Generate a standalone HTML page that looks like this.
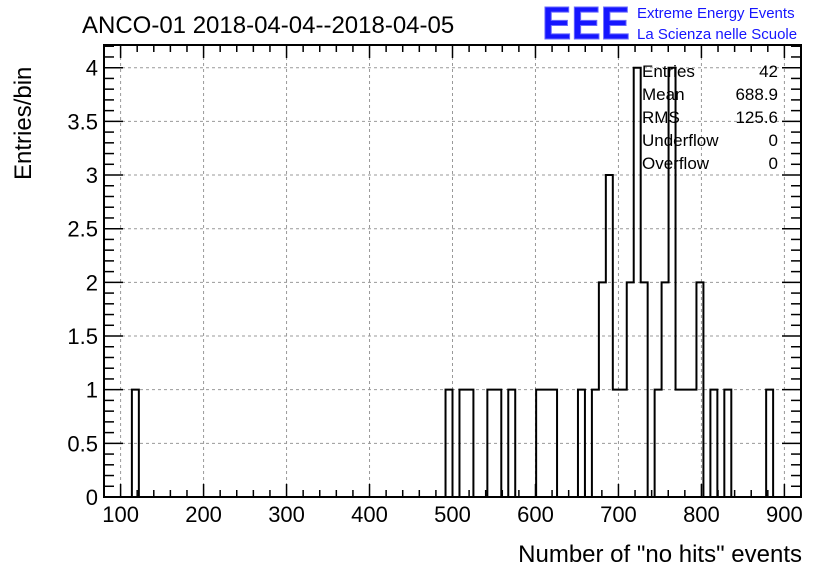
<!DOCTYPE html>
<html><head><meta charset="utf-8"><style>
body{margin:0;background:#fff;}
svg{display:block;font-family:"Liberation Sans",sans-serif;}
</style></head><body>
<svg id="chart" width="836" height="572" viewBox="0 0 836 572">
<rect width="836" height="572" fill="#fff"/>
<text x="82" y="33" font-size="24">ANCO-01 2018-04-04--2018-04-05</text>
<g>
<text x="542" y="39" font-size="46" font-weight="bold" fill="#1515ff" stroke="#6a6aff" stroke-width="1" textLength="88" lengthAdjust="spacingAndGlyphs">EEE</text>
<text x="637" y="18" font-size="15" fill="#1515ff">Extreme Energy Events</text>
<text x="637" y="39" font-size="15" fill="#1515ff">La Scienza nelle Scuole</text>
</g>
<g id="grid"></g>
<g id="axes"></g>
<path id="hist" fill="none" stroke="#000" stroke-width="2"/>
<g font-size="17">
<text x="642" y="77">Entries</text><text x="778" y="77" text-anchor="end">42</text>
<text x="642" y="100">Mean</text><text x="778" y="100" text-anchor="end">688.9</text>
<text x="642" y="123">RMS</text><text x="778" y="123" text-anchor="end">125.6</text>
<text x="642" y="146">Underflow</text><text x="778" y="146" text-anchor="end">0</text>
<text x="642" y="169">Overflow</text><text x="778" y="169" text-anchor="end">0</text>
</g>
<text transform="translate(31,180) rotate(-90)" font-size="24">Entries/bin</text>
<text x="802" y="562" font-size="24" text-anchor="end">Number of "no hits" events</text>
</svg>
<script>
const xMin = 80, xMax = 920, nBins = 100;
const binIndices = [4,49,51,52,55,56,58,62,63,64,68,70,71,72,73,74,75,76,77,79,80,81,82,83,84,85,87,89,95];
const binCounts  = [1,1,1,1,1,1,1,1,1,1,1,1,2,3,1,1,2,4,2,1,2,4,1,1,1,2,1,1,1];
const xTicks = [100,200,300,400,500,600,700,800,900];
const yTicks = [0,0.5,1,1.5,2,2.5,3,3.5,4];
const yTickLabels = ["0","0.5","1","1.5","2","2.5","3","3.5","4"];
const yMax = 4.21;
const L=104,R=801,T=45,B=497;
const sx=v=>L+(v-xMin)/(xMax-xMin)*(R-L);
const sy=v=>B-v/4*(B-67.7);
const NS="http://www.w3.org/2000/svg";
function mk(tag,attrs,parent){const e=document.createElementNS(NS,tag);for(const k in attrs)e.setAttribute(k,attrs[k]);parent.appendChild(e);return e;}
const grid=document.getElementById('grid'), axes=document.getElementById('axes');
xTicks.forEach(t=>{const l=mk('line',{x1:sx(t),x2:sx(t),y1:T,y2:B,stroke:'#999','stroke-dasharray':'3,3'},grid);

});
yTicks.forEach(t=>{if(t===0)return;const l=mk('line',{x1:L,x2:R,y1:sy(t),y2:sy(t),stroke:'#999','stroke-dasharray':'3,3'},grid);

});
const frame=mk('rect',{x:L,y:T,width:R-L,height:B-T,fill:'none',stroke:'#000','stroke-width':2},axes);


for(let v=xMin;v<=xMax;v+=20){const maj=v%100===0;const len=maj?13:7;
mk('line',{x1:sx(v),x2:sx(v),y1:B,y2:B-len,stroke:'#000','stroke-width':1.5},axes);
mk('line',{x1:sx(v),x2:sx(v),y1:T,y2:T+len,stroke:'#000','stroke-width':1.5},axes);}
for(let i=0;i<=42;i++){const v=i/10;const maj=i%5===0;const len=maj?19:10;
mk('line',{x1:L,x2:L+len,y1:sy(v),y2:sy(v),stroke:'#000','stroke-width':1.5},axes);
mk('line',{x1:R,x2:R-len,y1:sy(v),y2:sy(v),stroke:'#000','stroke-width':1.5},axes);}
xTicks.forEach(t=>{const e=mk('text',{x:sx(t),y:522,'font-size':22,'text-anchor':'middle'},axes);e.textContent=t;

});
yTicks.forEach((t,i)=>{const e=mk('text',{x:98,y:sy(t)+8,'font-size':22,'text-anchor':'end'},axes);e.textContent=yTickLabels[i];

});
const counts=new Array(nBins).fill(0);binIndices.forEach((b,i)=>counts[b]=binCounts[i]);
const bw=(xMax-xMin)/nBins;let d=`M${sx(xMin)},${sy(0)}`;let prev=0;
for(let i=0;i<nBins;i++){const x0=sx(xMin+i*bw),x1=sx(xMin+(i+1)*bw);d+=` L${x0},${sy(counts[i])} L${x1},${sy(counts[i])}`;}
d+=` L${sx(xMax)},${sy(0)}`;
document.getElementById('hist').setAttribute('d',d);
</script>
</body></html>
